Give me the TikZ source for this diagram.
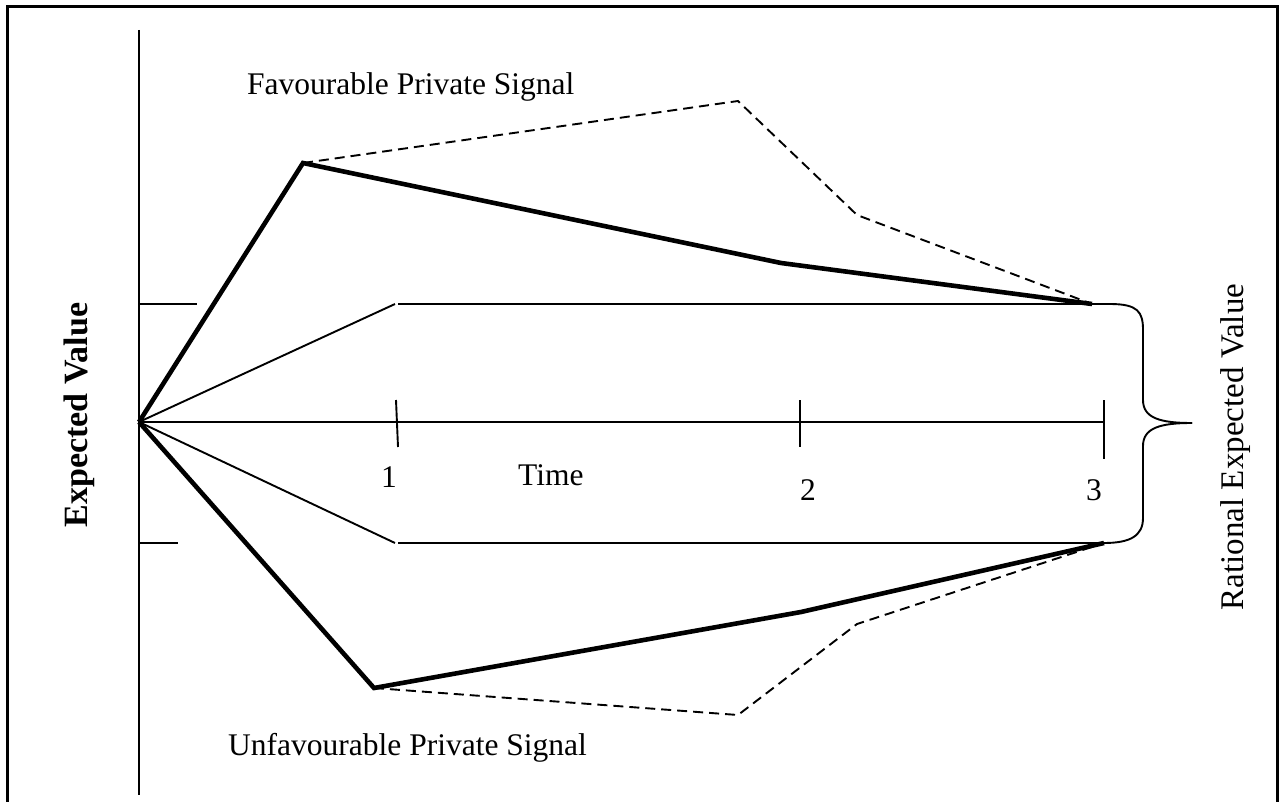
\documentclass[tikz,border=0pt]{standalone}
\usepackage{fontspec}
\setmainfont{Liberation Serif}
\begin{document}
\begin{tikzpicture}[x=1pt,y=-1pt,
  axisline/.style={line width=1.9pt},
  pathline/.style={line width=4.6pt, line join=miter},
  dashline/.style={line width=1.9pt, dash pattern=on 10pt off 6pt},
  framestyle/.style={line width=3pt},
  lbl/.style={font=\fontsize{31.5}{31.5}\selectfont, inner sep=0pt}]
\useasboundingbox (0,0) rectangle (1285,802);

% outer frame (open at the bottom)
\coordinate (fbl) at (7,802);
\coordinate (ftl) at (7,7);
\coordinate (ftr) at (1277,7);
\coordinate (fbr) at (1277,802);
\draw[framestyle] (fbl) -- (ftl) -- (ftr) -- (fbr);

% axes
\coordinate (O) at (139,422);
\coordinate (ytop) at (139,30);
\coordinate (ybot) at (139,795);
\coordinate (tend) at (1104,422);
\draw[axisline] (ytop) -- (ybot);
\draw[axisline] (O) -- (tend);

% marks on the value axis
\coordinate (hi) at (139,304);
\coordinate (hiend) at (197,304);
\coordinate (lo) at (139,543);
\coordinate (loend) at (178,543);
\draw[axisline] (hi) -- (hiend);
\draw[axisline] (lo) -- (loend);

% time ticks
\coordinate (t1a) at (396,400);
\coordinate (t1b) at (398,447);
\coordinate (t2a) at (800,400);
\coordinate (t2b) at (800,447);
\coordinate (t3a) at (1104,400);
\coordinate (t3b) at (1104,459);
\draw[axisline] (t1a) -- (t1b);
\draw[axisline] (t2a) -- (t2b);
\draw[axisline] (t3a) -- (t3b);

% rational paths
\coordinate (u1) at (395,304);
\coordinate (u1r) at (398,304);
\coordinate (uend) at (1092,304);
\coordinate (l1) at (395,543);
\coordinate (l1r) at (398,543);
\coordinate (lend) at (1104,543);
\draw[axisline] (O) -- (u1);
\draw[axisline] (u1r) -- (uend);
\draw[axisline] (O) -- (l1);
\draw[axisline] (l1r) -- (lend);

% paths after the private signal
\coordinate (F1) at (303,163);
\coordinate (F2) at (781,263);
\coordinate (U1) at (374,688);
\coordinate (U2) at (801,612);
\draw[pathline] (O) -- (F1) -- (F2) -- (uend);
\draw[pathline] (O) -- (U1) -- (U2) -- (lend);

% overreaction paths
\coordinate (D1) at (738,101);
\coordinate (D2) at (857,215);
\coordinate (E1) at (738,715);
\coordinate (E2) at (857,624);
\draw[dashline] (F1) -- (D1) -- (D2) -- (uend);
\draw[dashline] (U1) -- (E1) -- (E2) -- (lend);

% brace
\coordinate (tip) at (1192,423);
\draw[axisline] (uend) -- (1110,304) .. controls (1138,304) and (1143,312) .. (1143,330)
  -- (1143,400) .. controls (1143,418) and (1160,423) .. (tip);
\draw[axisline] (tip) .. controls (1160,423) and (1143,428) .. (1143,446)
  -- (1143,518) .. controls (1143,536) and (1130,543) .. (lend);

% labels
\node[lbl, anchor=base west] (fav) at (247,95) {Favourable Private Signal};
\node[lbl, anchor=base west] (unfav) at (228,755) {Unfavourable Private Signal};
\node[lbl, anchor=base west] (time) at (518,485) {Time};
\node[lbl, anchor=base] (n1) at (389,487) {1};
\node[lbl, anchor=base] (n2) at (808,500) {2};
\node[lbl, anchor=base] (n3) at (1094,500) {3};
\node[lbl, anchor=base, rotate=90, font=\fontsize{34}{34}\selectfont\bfseries] (ev) at (87,415) {Expected Value};
\node[lbl, anchor=base, rotate=90, font=\fontsize{33}{33}\selectfont] (rev) at (1243,447) {Rational Expected Value};
\end{tikzpicture}
\end{document}
